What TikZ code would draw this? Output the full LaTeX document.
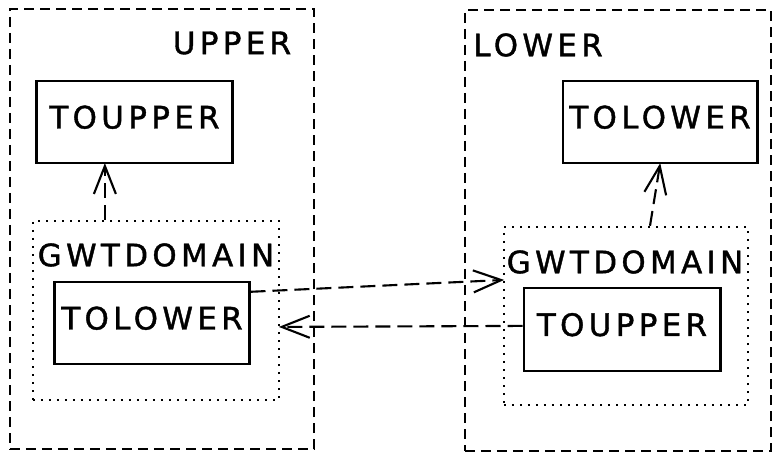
\documentclass[tikz,border=0pt]{standalone}
\usepackage{fontspec}
\newfontfamily\sketchfont[LetterSpace=14, FakeBold=1.3]{DejaVu Sans}
\usetikzlibrary{arrows.meta}

\begin{document}
\begin{tikzpicture}[x=0.025cm, y=-0.025cm]
			\tikzset{gwouter/.style={draw, dash pattern=on 0.25cm off 0.15cm,
						line width=1pt, inner sep=0pt}}
			\tikzset{gwdom/.style={draw, dash pattern=on 0.05cm off 0.15cm,
						line width=1.7pt, inner sep=0pt}}
			\tikzset{gwbox/.style={draw, line width=2.1pt, inner sep=0pt,
						minimum width=4.85cm, minimum height=2.05cm,
						text depth=0.25cm, font=\sketchfont\fontsize{22}{26}\selectfont}}
			\tikzset{gwlabel/.style={inner sep=0pt, font=\sketchfont\fontsize{22}{26}\selectfont}}
			\tikzset{gwflow/.style={line width=1.5pt, dash pattern=on 0.375cm off 0.175cm,
						-{Straight Barb[length=0.7cm, width=0.55cm, line width=1.5pt]}, shorten >=-1pt}}

			\useasboundingbox (0,0) rectangle (780,460);

			% upper side
			\node[gwouter, minimum width=7.6cm, minimum height=11cm] (up) at (162,229) {};
			\node[gwlabel] (uplbl) at (232,43) {UPPER};
			\node[gwbox, minimum width=4.875cm] (toupA) at (134.5,122) {TOUPPER};
			\node[gwdom, minimum width=6.15cm, minimum height=4.475cm] (domA) at (156,310.5) {};
			\node[gwlabel] (domAlbl) at (156,255) {GWTDOMAIN};
			\node[gwbox] (tolA) at (152,323) {TOLOWER};

			% lower side
			\node[gwouter, minimum width=7.65cm, minimum height=11.025cm] (low) at (618,230.5) {};
			\node[gwlabel] (lowlbl) at (538,45) {LOWER};
			\node[gwbox] (tolB) at (660,122) {TOLOWER};
			\node[gwdom, minimum width=6.1cm, minimum height=4.45cm] (domB) at (626,316) {};
			\node[gwlabel] (domBlbl) at (625,262) {GWTDOMAIN};
			\node[gwbox, minimum width=4.9cm, minimum height=2.075cm] (toupB) at (622,329.5) {TOUPPER};

			\draw[gwflow] ([xshift=-0.74cm]toupA.south |- domA.north) -- ([xshift=-0.74cm]toupA.south);
			\draw[gwflow] ([xshift=0.6cm]domB.north) -- (tolB.south);
			\draw[gwflow] ([yshift=0.78cm]tolA.east) -- ([yshift=0.9cm]domB.west);
			\draw[gwflow] ([yshift=0.09cm]toupB.west) -- ([yshift=-0.41cm]domA.east);
		\end{tikzpicture}
\end{document}
